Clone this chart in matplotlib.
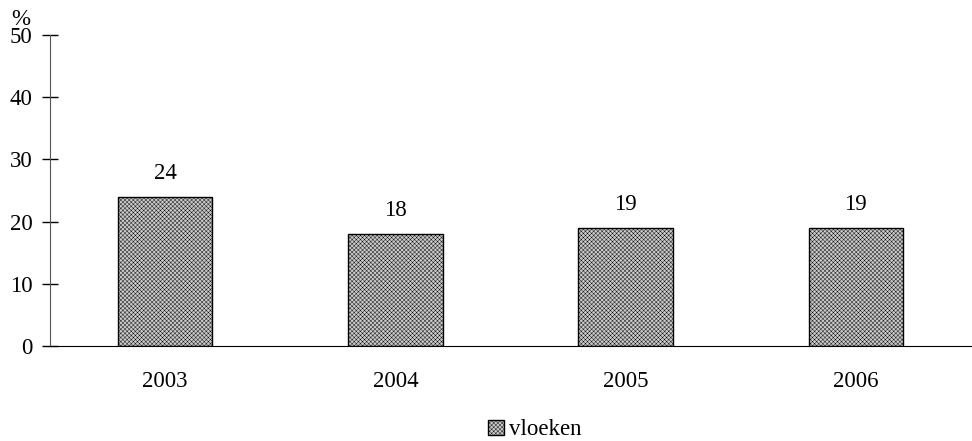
import numpy as np
import matplotlib.pyplot as plt

plt.rcParams['font.family'] = ['Liberation Serif', 'DejaVu Serif']
plt.rcParams['hatch.linewidth'] = 0.3
plt.rcParams['hatch.color'] = '#b0b0b0'

years = ['2003', '2004', '2005', '2006']
vloeken = [24, 18, 19, 19]

fig = plt.figure(figsize=(9.72, 4.41), dpi=100)
ax = fig.add_axes([0.0514, 0.2154, 0.9476, 0.7052])

index = np.arange(len(years))
bars = ax.bar(index, vloeken, 0.41, color='#cacaca', edgecolor='black',
              linewidth=1, hatch='xxxxxxxx', label='vloeken')

for rect, v in zip(bars, vloeken):
    ax.annotate('%d' % v, (rect.get_x() + rect.get_width() / 2, v),
                xytext=(0, 17), textcoords='offset points',
                ha='center', va='center', fontsize=16.5)

ax.set_xlim(-0.5, 3.5)
ax.set_ylim(0, 50)
ax.set_yticks(np.arange(0, 51, 10))
ax.set_xticks(index)
ax.set_xticklabels(years)
ax.tick_params(axis='x', length=0, pad=18, labelsize=16.5)
ax.tick_params(axis='y', direction='inout', length=11, width=1, labelsize=16.5, pad=7)
ax.spines['top'].set_visible(False)
ax.spines['right'].set_visible(False)
ax.spines['left'].set_color('#555555')
# the % label sits right on top of the 50, as in the source chart
ax.text(0.012, 0.955, '%', transform=fig.transFigure, fontsize=16.5, ha='left', va='center')

fig.legend(loc='center left', bbox_to_anchor=(0.502, 0.025), frameon=False,
           fontsize=16.5, borderpad=0, borderaxespad=0,
           handlelength=0.68, handleheight=0.68, handletextpad=0.25)

plt.savefig('out.png', dpi=100)
